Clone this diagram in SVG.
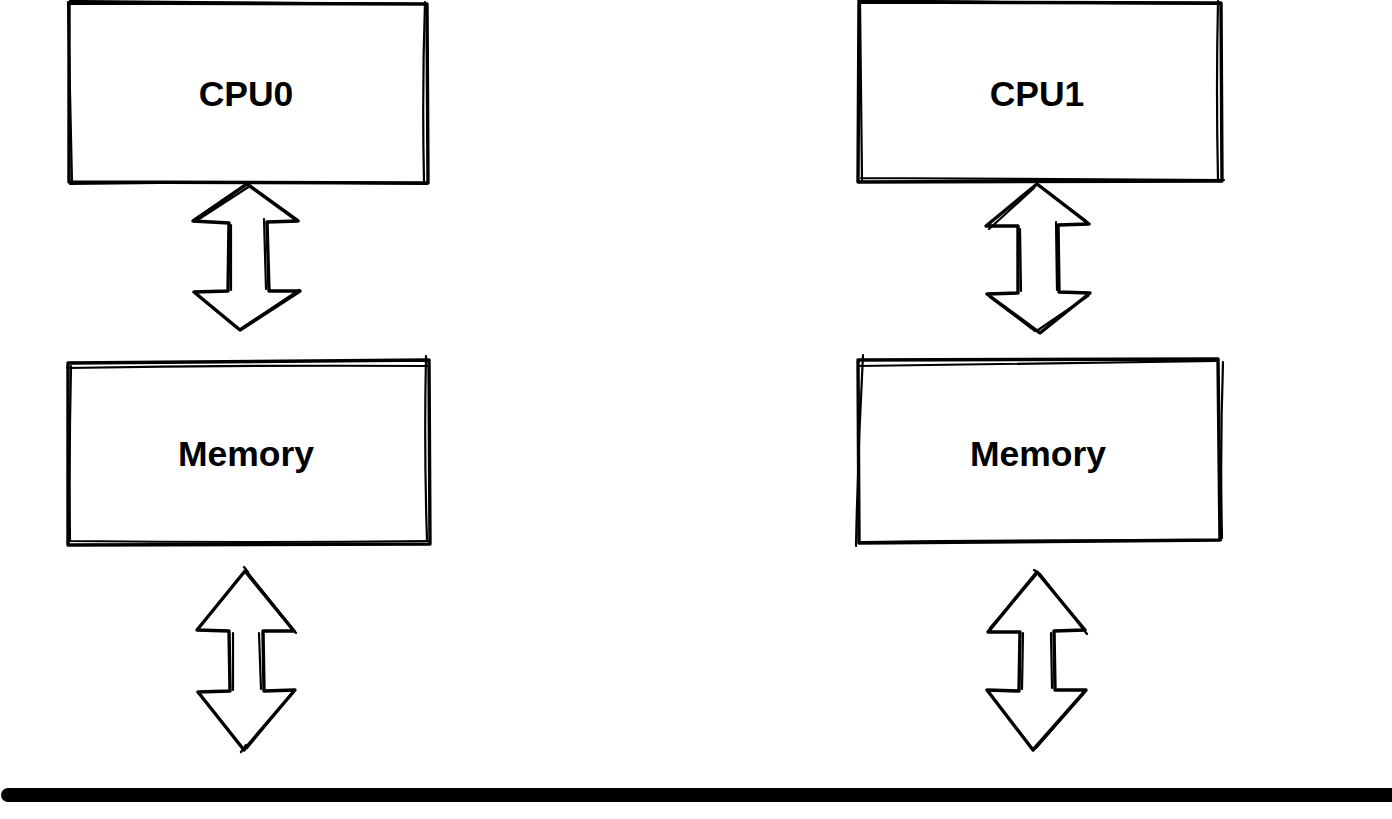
<svg xmlns="http://www.w3.org/2000/svg" width="1392" height="819" viewBox="0 0 1392 819">
<style>
.sk{fill:none;stroke:#000;stroke-width:3.4;stroke-linecap:round;stroke-linejoin:round}
.sk2{fill:none;stroke:#000;stroke-width:2.2;stroke-linecap:round;stroke-linejoin:round}
.lbl{font-family:"Liberation Sans",Arial,sans-serif;font-weight:bold;font-size:35.5px;fill:#000;text-anchor:middle}
</style>
<rect width="1392" height="819" fill="#fff"/>
<g id="cpu0">
<path class="sk" d="M69 3 L427 4 L428 183 L69 182 Z"/>
<path class="sk2" d="M70 1 Q250 3 424 4 M425 2 Q422 90 424 181 M427 184 Q250 181 70 184 M72 183 Q70 90 68 2"/>
<text class="lbl" x="246" y="106">CPU0</text>
</g>
<g id="cpu1">
<path class="sk" d="M859 2 L1221 3 L1222 181 L858 182 Z"/>
<path class="sk2" d="M858 0 Q1040 3 1219 4 M1218 1 Q1216 90 1218 180 M1224 180 Q1040 179 861 178 M862 180 Q861 90 860 1"/>
<text class="lbl" x="1037" y="106">CPU1</text>
</g>
<g id="mem0">
<path class="sk" d="M68 363 L429 360 L430 544 L68 545 Z"/>
<path class="sk2" d="M67 368 Q250 365 428 366 M426 356 Q424 450 427 540 M429 541 Q250 543 69 541 M71 366 Q69 450 70 540"/>
<text class="lbl" x="246" y="466">Memory</text>
</g>
<g id="mem1">
<path class="sk" d="M858 360 L1218 359 L1220 540 L859 543 Z"/>
<path class="sk2" d="M858 366 Q1040 363 1217 361 M1223 362 Q1220 450 1222 538 M1221 540 Q1040 540 861 542 M863 355 Q858 450 856 546"/>
<text class="lbl" x="1038" y="466">Memory</text>
</g>
<g id="connectors">
<g id="arrow-cpu0-mem0">
<path class="sk" d="M247 184 L298 221 L267 222 L269 291 L300 291 L240 330 L194 292 L228 291 L229 223 L193 221 Z"/>
<path class="sk2" d="M245 182 L296 219 M264 219 L266 289 M299 290 L242 328 M237 328 L197 295 M231 290 L231 225 M196 221 L250 186"/>
</g>
<g id="arrow-cpu1-mem1">
<path class="sk" d="M1037 184 L1089 224 L1058 225 L1059 292 L1090 293 L1040 333 L987 294 L1018 293 L1018 226 L986 226 Z"/>
<path class="sk2" d="M1040 186 L1086 221 M1056 222 L1057 290 M1088 296 L1038 330 M1035 331 L990 297 M1021 291 L1020 229 M989 229 L1034 188"/>
</g>
<g id="arrow-mem0-bus">
<path class="sk" d="M245 571 L294 631 L263 631 L264 691 L295 690 L244 750 L198 692 L230 691 L229 631 L197 630 Z"/>
<path class="sk2" d="M248 573 L296 633 M244 567 L248 572 M259 633 L261 689 M293 692 L247 748 M233 633 L233 690 M246 745 L241 752"/>
</g>
<g id="arrow-mem1-bus">
<path class="sk" d="M1037 572 L1085 630 L1054 631 L1055 690 L1086 690 L1033 750 L987 690 L1019 691 L1020 632 L988 632 Z"/>
<path class="sk2" d="M1040 574 L1087 634 M1034 570 L1040 574 M1051 633 L1052 688 M1084 693 L1036 748 M1023 633 L1022 689 M990 628 L1036 575"/>
</g>
</g>
<g id="bus">
<path d="M8 795 L1392 795" stroke="#000" stroke-width="14" stroke-linecap="round" fill="none"/>
</g>
</svg>
